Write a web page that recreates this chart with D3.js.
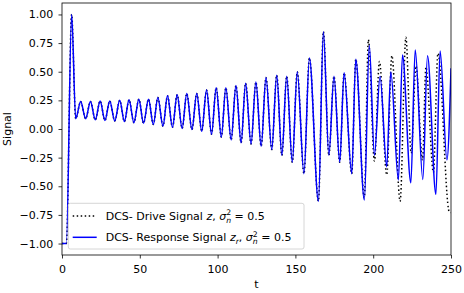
<!DOCTYPE html>
<html>
<head>
<meta charset="utf-8">
<script src="https://cdn.jsdelivr.net/npm/d3@7"></script>
<style>
  body { margin: 0; background: #fff; }
  text { font-family: "DejaVu Sans", sans-serif; }
</style>
</head>
<body>
<div id="chart"></div>
<script>
// turning points: time t and signal value
// both signals follow the same path up to t ~ 189
var sharedT = [0, 2.8, 6.2, 8.8, 12.0, 15.2, 18.3, 21.4, 24.5, 27.6, 30.7, 33.9, 37.1, 40.1,
  43.1, 46.2, 49.4, 52.4, 55.6, 58.7, 61.6, 64.9, 67.8, 71.0, 74.0, 77.2, 80.2, 83.5,
  86.6, 89.8, 92.9, 96.1, 99.1, 102.4, 105.3, 108.7, 111.8, 115.1, 118.0, 121.5, 124.6,
  128.0, 131.1, 134.8, 138.0, 141.3, 144.4, 148.0, 151.2, 155.5, 159.0, 164.8, 168.0,
  171.5, 174.8, 178.5, 181.3, 186.2, 188.8];
var sharedV = [-1.0, -1.0, 1.0, 0.09, 0.24, 0.09, 0.24, 0.08, 0.245, 0.075, 0.245, 0.07, 0.25, 0.065,
  0.255, 0.055, 0.26, 0.05, 0.26, 0.04, 0.275, 0.025, 0.29, 0.015, 0.30, 0.005, 0.31, -0.005,
  0.31, -0.02, 0.34, -0.045, 0.36, -0.07, 0.36, -0.095, 0.38, -0.12, 0.40, -0.13, 0.41,
  -0.15, 0.45, -0.18, 0.47, -0.23, 0.46, -0.29, 0.50, -0.39, 0.62, -0.63, 0.85,
  -0.23, 0.46, -0.29, 0.49, -0.39, 0.61];

// after that they drift apart
var driveTailT = [194.3, 196.9, 200.8, 204.0, 208.7, 212.0, 217.3, 221.0, 224.4, 227.5,
  231.7, 233.9, 238.7, 241.6, 248.8, 250];
var driveTailV = [-0.60, 0.78, -0.28, 0.59, -0.40, 0.64, -0.63, 0.80, -0.21, 0.55,
  -0.27, 0.54, -0.38, 0.66, -0.72, -0.73];

var responseTailT = [194.3, 197.5, 200.8, 204.4, 208.7, 211.3, 216.2, 218.8, 224.2, 227.0,
  231.9, 234.9, 240.3, 243.0, 247.4, 250];
var responseTailV = [-0.62, 0.73, -0.23, 0.46, -0.33, 0.50, -0.445, 0.645, -0.47, 0.69,
  -0.44, 0.64, -0.57, 0.68, -0.27, 0.53];

var xTicks = [0, 50, 100, 150, 200, 250];
var yTicks = [-1.0, -0.75, -0.5, -0.25, 0.0, 0.25, 0.5, 0.75, 1.0];

function toPoints(ts, vs) {
  return ts.map(function (t, i) { return { t: t, v: vs[i] }; });
}
var drive = toPoints(sharedT.concat(driveTailT), sharedV.concat(driveTailV));
var response = toPoints(sharedT.concat(responseTailT), sharedV.concat(responseTailV));

var fs = 11; // font size used everywhere

var margin = { top: 3, right: 13, bottom: 38, left: 62 },
  width = 464 - margin.left - margin.right,
  height = 293 - margin.top - margin.bottom;

var svg = d3.select('#chart')
  .append('svg')
  .attr('width', 464)
  .attr('height', 293)
  .append('g')
  .attr('transform', 'translate(' + margin.left + ',' + margin.top + ')');

var x = d3.scaleLinear().domain([0, 250]).range([0, width]);
var y = d3.scaleLinear().domain([-1.1, 1.1]).range([height, 0]);

svg.append('defs').append('clipPath').attr('id', 'clip')
  .append('rect').attr('width', width).attr('height', height);

var line = d3.line()
  .x(function (d) { return x(d.t); })
  .y(function (d) { return y(d.v); })
  .curve(d3.curveMonotoneX);

var plot = svg.append('g').attr('clip-path', 'url(#clip)');

plot.append('path')
  .datum(drive)
  .attr('d', line)
  .attr('fill', 'none')
  .attr('stroke', '#000')
  .attr('stroke-width', 1.5)
  .attr('stroke-dasharray', '1.5,2.5');

plot.append('path')
  .datum(response)
  .attr('d', line)
  .attr('fill', 'none')
  .attr('stroke', 'blue')
  .attr('stroke-width', 1.5);

// axes
var xAxis = svg.append('g')
  .attr('transform', 'translate(0,' + height + ')')
  .call(d3.axisBottom(x).tickValues(xTicks).tickSize(3.5).tickPadding(6.2).tickSizeOuter(0));

var yAxis = svg.append('g')
  .call(d3.axisLeft(y).tickValues(yTicks).tickFormat(d3.format('.2f'))
    .tickSize(3.5).tickPadding(5.2).tickSizeOuter(0));

[xAxis, yAxis].forEach(function (a) {
  a.select('.domain').remove();
  a.selectAll('line').attr('stroke', '#000').attr('stroke-width', 0.8);
  a.selectAll('text').attr('font-size', fs).attr('fill', '#000')
    .style('font-family', '"DejaVu Sans", sans-serif');
});

// frame
svg.append('rect')
  .attr('width', width)
  .attr('height', height)
  .attr('fill', 'none')
  .attr('stroke', '#000')
  .attr('stroke-width', 0.8);

svg.append('text')
  .attr('x', width / 2)
  .attr('y', height + 32.7)
  .attr('text-anchor', 'middle')
  .attr('font-size', fs)
  .text('t');

svg.append('text')
  .attr('transform', 'translate(' + (11.3 - margin.left) + ',' + (height / 2) + ') rotate(-90)')
  .attr('text-anchor', 'middle')
  .attr('font-size', fs)
  .text('Signal');

// legend
var legend = svg.append('g')
  .attr('transform', 'translate(' + (68.3 - margin.left) + ',' + (203.3 - margin.top) + ')');

legend.append('rect')
  .attr('width', 235.7)
  .attr('height', 45.7)
  .attr('rx', 2)
  .attr('fill', 'rgba(255,255,255,0.8)')
  .attr('stroke', '#cccccc')
  .attr('stroke-width', 0.8);

var entries = [
  { label: 'Drive', color: '#000', dash: '1.5,2.5', sub: null },
  { label: 'Response', color: 'blue', dash: null, sub: 'r' }
];

entries.forEach(function (e, i) {
  var cy = 12.7 + i * 21.3;
  legend.append('line')
    .attr('x1', 4.4).attr('x2', 28.4)
    .attr('y1', cy).attr('y2', cy)
    .attr('stroke', e.color)
    .attr('stroke-width', 1.5)
    .attr('stroke-dasharray', e.dash);

  var t = legend.append('text')
    .attr('x', 37.4)
    .attr('y', cy + 3.8)
    .attr('font-size', fs);
  t.append('tspan').text('DCS- ' + e.label + ' Signal ');
  t.append('tspan').attr('font-style', 'italic').text('z');
  if (e.sub) {
    t.append('tspan').attr('font-style', 'italic').attr('font-size', 7.7).attr('dy', 2.7).text(e.sub);
    t.append('tspan').attr('dy', -2.7).text(', ');
  } else {
    t.append('tspan').text(', ');
  }
  t.append('tspan').attr('font-style', 'italic').text('σ');
  t.append('tspan').attr('font-size', 7.7).attr('dy', -4.4).text('2');
  t.append('tspan').attr('font-style', 'italic').attr('font-size', 7.7)
    .attr('dx', -4.9).attr('dy', 7.2).text('n');
  t.append('tspan').attr('dy', -2.8).text(' = 0.5');
});
</script>
</body>
</html>
